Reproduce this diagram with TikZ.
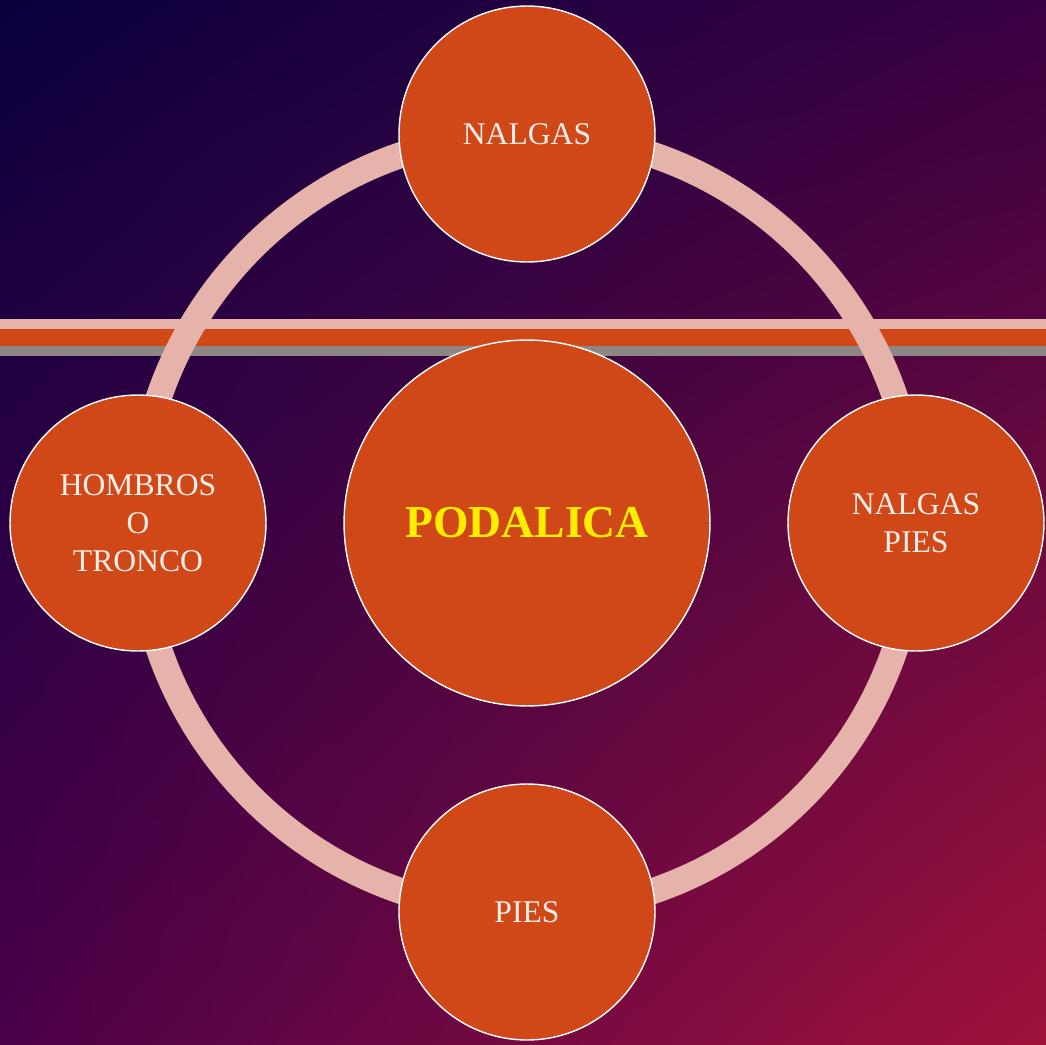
\documentclass[tikz,border=0pt]{standalone}
\usepackage{fontspec}
\setmainfont{Liberation Serif}
\usetikzlibrary{shadings}
\definecolor{burnt}{HTML}{D14818}
\definecolor{blush}{HTML}{E6B3AB}
\definecolor{ash}{HTML}{8E8585}
\definecolor{cream}{HTML}{F8EEE8}
\definecolor{lemon}{HTML}{FFEE00}
\definecolor{night}{HTML}{0A003F}
\definecolor{plum}{HTML}{380042}
\definecolor{wine}{HTML}{4A0048}
\definecolor{ember}{HTML}{A0123A}

\begin{document}
\begin{tikzpicture}[x=0.02cm, y=-0.02cm,
            bubble/.style={circle, draw=white, line width=0.8pt, fill=burnt, text=cream,
                inner sep=0pt, minimum size=5.12cm, align=center,
                font=\fontsize{18}{21.6}\selectfont},
            hub/.style={bubble, minimum size=7.32cm, text=lemon,
                font=\fontsize{26}{30}\selectfont\bfseries},
            ring/.style={draw=blush, line width=0.52cm}]
    \useasboundingbox (0,0) rectangle (1046,1045);
    \shade[upper left=night, upper right=plum, lower left=wine, lower right=ember]
        (0,0) rectangle (1046,1045);
    \fill[blush] (0,319) rectangle (1046,329);
    \fill[burnt] (0,329) rectangle (1046,346);
    \fill[ash] (0,346) rectangle (1046,356);
    \node[hub] (podalica) at (527,523) {PODALICA};
    \draw[ring] (podalica.center) circle (7.78cm);
    \node[bubble] (nalgas) at (527,134) {NALGAS};
    \node[bubble] (nalgaspies) at (916,523) {NALGAS\\PIES};
    \node[bubble] (pies) at (527,912) {PIES};
    \node[bubble] (hombros) at (138,523) {HOMBROS\\O\\TRONCO};
\end{tikzpicture}
\end{document}
